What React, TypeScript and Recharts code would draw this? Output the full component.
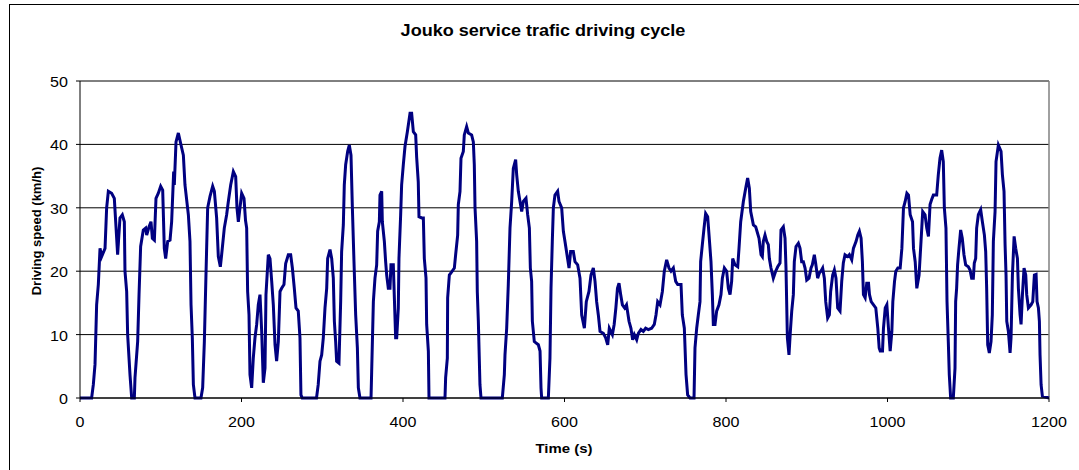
import { LineChart, Line, XAxis, YAxis, CartesianGrid, ReferenceLine } from 'recharts'

document.body.style.margin = '0'

const chartTitle = 'Jouko service trafic driving cycle'
const xTitle = 'Time (s)'
const yTitle = 'Driving speed (km/h)'

const xTicks = [0, 200, 400, 600, 800, 1000, 1200]
const yTicks = [0, 10, 20, 30, 40, 50]

// time (s)
const timeSec = [
  0, 14.4, 16.5, 18.6, 20.6, 22.7, 24.8, 26.8, 31, 33, 35.1, 39.2, 42.5, 44.2, 46.6, 49.5, 52.4, 54.9, 55.7, 57.8,
  59, 61.9, 64, 67.3, 68.1, 71.4, 73.1, 75.1, 78.4, 81.3, 82.6, 85.5, 87.9, 89.6, 92.1, 94.1, 97, 99.9, 102.4, 104.4,
  106.1, 108.6, 111.5, 113.5, 116, 116.8, 118.9, 121.8, 125.1, 128, 130, 134.2, 136.2, 137.5, 139.1, 140.4, 142.4, 149.8, 151.9, 154,
  156, 158.1, 161, 164.3, 166.4, 169.2, 171.3, 173.8, 175.4, 178.7, 181.6, 183.7, 186.6, 189.9, 192.8, 194.4, 196.1, 198.1, 200.2, 203.1,
  205, 206.4, 207.6, 209.3, 210.5, 212.6, 214.6, 216.7, 218.8, 220.8, 222.9, 225, 227, 229.1, 230.3, 233.2, 235.3, 237.4, 239.4, 241.5,
  243.5, 245.6, 247.7, 249.7, 252.6, 254.7, 258, 260.9, 263, 265.4, 267.5, 270.3, 272.4, 273.6, 275.2, 292.9, 295, 297.2, 299.3, 301.3,
  303.4, 305.5, 306.7, 309.6, 311.7, 313.7, 315, 316.6, 317.8, 320.7, 322.8, 324, 326.1, 327.3, 329, 331.5, 333.5, 335.6, 337.3, 339.3,
  341.4, 343.5, 344.7, 346.7, 360.4, 361.2, 363.3, 365.3, 367.4, 368.6, 370.7, 371.5, 373.6, 374.4, 376.9, 378.5, 379.8, 381.8, 383.9, 385.1,
  388, 389.3, 390.9, 392.2, 394.2, 395, 397.1, 398.3, 400.4, 402.5, 405.4, 408.7, 410.7, 412.8, 415.7, 416.9, 418.9, 419.8, 423.1, 425.2,
  426.4, 428.5, 429.3, 431.4, 432.2, 452, 452.8, 454.9, 455.3, 457.4, 460.3, 463.6, 465.2, 467.7, 468.5, 470.6, 471.8, 474.7, 475.9, 478.8,
  480.9, 485, 487.1, 488.3, 489.2, 491.2, 492, 493.3, 495.3, 496.6, 523, 525.5, 526.3, 528.4, 530.4, 532.5, 534.6, 536.6, 539.5, 540.8,
  542.8, 544.9, 547, 549, 552.3, 554.4, 556.5, 557.7, 559.3, 560.2, 562.6, 567.6, 569.7, 570.9, 571.7, 580, 582, 583.3, 584.9, 586.2,
  588.2, 591.5, 593.2, 596.5, 598.6, 600.6, 603.1, 605.6, 607.6, 610.9, 613, 616.3, 619.2, 621.3, 624.6, 627, 630.3, 632.8, 635.7, 637.8,
  639.8, 641.9, 644, 648.1, 651, 653.5, 655.5, 659.3, 661.5, 663.6, 665.6, 667.5, 669.6, 671.7, 674.5, 676.8, 679.9, 682.3, 684.4, 686.5,
  689.4, 691.4, 694.7, 697.6, 700.5, 703.8, 707.9, 711.2, 713.3, 715.4, 718.3, 721.2, 723.6, 726.5, 729.4, 731.9, 734.8, 737.7, 740.2, 744.3,
  745.9, 748.4, 750.5, 752.5, 755.4, 760.4, 761.6, 763.7, 765.7, 767.8, 768.6, 770.7, 772.8, 774.8, 777.3, 779, 781.4, 783.1, 784.3, 786.4,
  788.4, 791.3, 793.8, 795.5, 798, 800.8, 802.9, 805, 807, 808.3, 811.1, 814.5, 816.1, 818.2, 821.5, 824.4, 826.8, 828.9, 830.6, 833.9,
  836.8, 840.9, 843.4, 845, 846.2, 848.3, 850.4, 852.4, 853.7, 855.7, 858.6, 861.5, 864, 866.9, 868.1, 871, 873.1, 874.3, 876, 878,
  879.7, 881.4, 883.4, 884.6, 886.7, 889.6, 891.7, 893.7, 895.8, 897.9, 900, 902.8, 905.3, 906.9, 909.4, 911, 913.5, 915.6, 917.6, 919.7,
  921.8, 923.5, 925.9, 928, 929.6, 932.1, 934.2, 936.2, 938.3, 941.2, 943.3, 945.3, 947.4, 950.7, 952.8, 955.7, 957.8, 961.1, 963.2, 965.2,
  967.3, 968.9, 970.2, 972.3, 974.3, 976.5, 977.7, 979.8, 982.7, 985.5, 988, 989.7, 991, 993.8, 995, 997.2, 999.2, 1001.2, 1003.3, 1005.4,
  1006.6, 1008.7, 1010.3, 1012.8, 1015.7, 1017.8, 1019.8, 1021.9, 1024, 1026, 1028.1, 1031, 1032.2, 1034.3, 1036.3, 1039.1, 1041.5, 1043.6, 1046.5, 1048.6,
  1050.7, 1052.7, 1054.7, 1056.8, 1060.9, 1062.9, 1065, 1067.1, 1069.1, 1070.4, 1072.4, 1073.7, 1075.3, 1076.5, 1078.2, 1081.5, 1083.6, 1084.4, 1085.6, 1086.8,
  1088.5, 1090.6, 1092.6, 1094.7, 1096.8, 1100.1, 1102.2, 1104.2, 1106.3, 1107.5, 1109.2, 1110.4, 1112.5, 1115.4, 1117.5, 1120, 1121.6, 1122.8, 1124.1, 1126.1,
  1128.2, 1129.8, 1131.1, 1133.2, 1134.4, 1137.3, 1140.6, 1142.3, 1144.3, 1145.6, 1146.8, 1147.7, 1149.7, 1151.8, 1153, 1154.7, 1156.8, 1158.8, 1160.9, 1162.1,
  1164.2, 1165.4, 1167.1, 1169.1, 1171.2, 1172.4, 1174.5, 1177.8, 1179.9, 1181.9, 1184, 1185.2, 1186.9, 1188.1, 1188.9, 1190.2, 1191.8, 1200,
]

// speed (km/h) at those times
const speedKmh = [
  0, 0, 2.1, 5.3, 14.7, 17.9, 23.6, 22.3, 23.6, 30, 32.6, 32.3, 31.5, 27.8, 22.6, 28.4, 28.9, 27.8, 20, 16.8,
  10, 3.7, 0, 0, 3.2, 8.9, 16.3, 23.9, 26.5, 26.8, 25.7, 27, 27.8, 25.2, 24.9, 31.5, 32.3, 33.4, 32.8, 23.6,
  22, 24.7, 24.9, 27.8, 35.7, 33.6, 40.4, 41.8, 39.9, 38.3, 33.6, 28.9, 24.7, 14.7, 9.5, 2.1, 0, 0, 1.6, 8.9,
  19.4, 30, 31.8, 33.4, 32.6, 28.4, 22.3, 20.7, 22.6, 26.8, 28.9, 31, 33.6, 35.7, 34.9, 30, 27.8, 30, 32.3, 31.5,
  28, 26.8, 16.8, 13.1, 3.7, 1.6, 6.3, 9.5, 11.6, 14.7, 16.3, 10.5, 2.4, 4.7, 16.3, 22.6, 22, 18.4, 14.7, 8.4,
  5.8, 8.9, 16.8, 17.3, 17.9, 21.2, 22.6, 22.6, 20.5, 17.3, 14.2, 13.7, 9.5, 0.5, 0, 0, 2.1, 5.8, 6.8, 9.5,
  14.2, 17.3, 22, 23.4, 22, 18.9, 12.1, 8.9, 5.8, 5.5, 15.2, 23.1, 27.3, 33.6, 36.8, 38.9, 39.9, 38.3, 30, 21.5,
  13.1, 7.9, 1.6, 0, 0, 4.2, 15.2, 18.9, 21, 26.3, 27.8, 32, 32.6, 27.8, 24.7, 21.5, 19.4, 17.3, 17.3, 21,
  21, 15.8, 9.5, 9.5, 14.2, 22, 28.9, 33.6, 36.8, 39.7, 42, 44.9, 44.9, 42, 41.5, 38, 34.1, 28.6, 28.4, 28.4,
  22, 18.9, 11.6, 7.4, 0, 0, 3.2, 6.3, 15.8, 19.4, 19.9, 20.5, 22.6, 25.7, 30.5, 32.6, 37.8, 38.9, 41.5, 42.8,
  41.8, 41.5, 40.4, 36.8, 30, 24.7, 16.8, 12.1, 2.1, 0, 0, 3.7, 6.8, 11, 17.9, 26.8, 31, 36.2, 37.6, 35.2,
  32.6, 31, 29.4, 31, 31.5, 28.9, 26.8, 20.5, 18.4, 12.1, 8.9, 8.4, 7.4, 1.6, 0, 0, 6.3, 17.3, 24.7, 30,
  32, 32.6, 31, 30, 26.3, 24.7, 22.6, 20.5, 23.1, 23.1, 21.5, 21, 18.9, 13.1, 11, 15.2, 16.8, 19.4, 20.5, 18.4,
  15.2, 13.1, 10.5, 10.2, 9.5, 8.4, 11, 10, 11.6, 14.2, 17.3, 18.1, 16.3, 14.7, 14.2, 14.7, 12.1, 11, 9.2, 10,
  9.2, 10.2, 10.8, 10.5, 11, 10.8, 11, 11.6, 13.1, 15.2, 14.7, 16.8, 20, 21.8, 20.5, 20, 20.5, 18.4, 17.9, 17.9,
  13.1, 11, 3.7, 0.5, 0, 0, 7.9, 11, 13.1, 15.2, 21.5, 24.2, 26.8, 29.1, 28.6, 25.7, 21.5, 16.3, 11.6, 11.6,
  13.7, 14.7, 16.3, 18.9, 20.5, 20, 17.3, 16.3, 18.4, 22, 21, 20.7, 23.6, 27.8, 31, 33.1, 34.7, 33.1, 29.4, 27.3,
  27, 25.2, 22.6, 22.3, 24.7, 25.7, 24.7, 24.2, 22, 20.5, 18.9, 20, 20.7, 21.3, 26.5, 27, 25.2, 20.5, 9.5, 6.8,
  10.5, 13.7, 16.3, 21.5, 23.9, 24.4, 23.6, 21.5, 21.5, 20.5, 18.6, 18.9, 20.5, 21, 22.6, 21.3, 18.9, 19.7, 20, 20.5,
  18.9, 15.2, 12.6, 13.1, 16.8, 19.4, 20.2, 18.9, 14.2, 13.7, 18.4, 21.3, 22.6, 22.3, 22.6, 21.8, 23.6, 24.7, 25.7, 26.3,
  25.2, 21.5, 16.3, 15.8, 18.1, 18.1, 16.3, 15.2, 14.7, 14.2, 11, 7.9, 7.4, 7.4, 11, 14.2, 14.7, 11, 7.4, 10.5,
  15.2, 18.4, 20, 20.5, 20.5, 23.6, 30, 31, 32.3, 32, 28.9, 27.8, 23.6, 21.5, 17.3, 19.4, 24.7, 29.4, 28.9, 26.8,
  25.5, 30.5, 31.3, 32, 32, 35.2, 37.8, 39.1, 37.3, 30, 26.8, 15.2, 8.9, 3.7, 0, 0, 4.7, 15.2, 17.3, 21,
  23.6, 26.5, 25.2, 22.6, 21, 20.7, 20.2, 18.9, 18.9, 21.3, 22, 26.8, 28.9, 29.7, 27.8, 25.7, 23.1, 17.3, 8.4, 7.1,
  8.9, 13.1, 24.7, 29.4, 37.3, 39.9, 38.9, 35.2, 32.6, 24.2, 19.4, 12.1, 10.5, 7.1, 9.5, 19.4, 25.5, 23.6, 22, 17.3,
  13.1, 11.6, 16.3, 20.5, 19.4, 16.3, 14.2, 14.7, 15.2, 19.4, 19.5, 15.2, 14.2, 12.1, 6.8, 2.1, 0.3, 0,
]

const rows = timeSec.map((t, i) => ({ time: t, speed: speedKmh[i] }))

const labelFont = 'Arial, "Liberation Sans", Helvetica, sans-serif'

function XTick(props: any) {
  const { x, y, payload } = props
  return (
    <text
      transform={`translate(${x},${y + 10}) scale(1.15,1)`}
      textAnchor="middle"
      fontSize={14}
      fontFamily={labelFont}
      fill="#000"
    >
      {payload.value}
    </text>
  )
}

function YTick(props: any) {
  const { x, y, payload } = props
  return (
    <text
      transform={`translate(${x},${y + 6}) scale(1.15,1)`}
      textAnchor="end"
      fontSize={14}
      fontFamily={labelFont}
      fill="#000"
    >
      {payload.value}
    </text>
  )
}

export default function App() {
  return (
    <div style={{ position: 'relative', width: 1079, height: 470, overflow: 'hidden', background: '#fff' }}>
      <div
        style={{
          position: 'absolute',
          left: 9,
          top: 4,
          width: 1200,
          height: 600,
          borderLeft: '1px solid #000',
          borderTop: '1px solid #000',
        }}
      />
      <div style={{ position: 'absolute', left: 0, top: 0 }}>
        <LineChart width={1079} height={470} data={rows} margin={{ top: 81, right: 30, bottom: 42, left: 0 }}>
          <CartesianGrid horizontal vertical={false} stroke="#000" strokeWidth={1} />
          <XAxis
            dataKey="time"
            type="number"
            domain={[0, 1200]}
            ticks={xTicks}
            height={30}
            tickSize={4}
            tickMargin={15}
            tick={<XTick />}
            axisLine={{ stroke: '#000' }}
            tickLine={{ stroke: '#000' }}
          />
          <YAxis
            type="number"
            domain={[0, 50]}
            ticks={yTicks}
            width={80}
            tickSize={4}
            tickMargin={8}
            tick={<YTick />}
            axisLine={{ stroke: '#000' }}
            tickLine={{ stroke: '#000' }}
          />
          <ReferenceLine x={1200} stroke="#808080" strokeWidth={1.5} />
          <Line
            dataKey="speed"
            type="linear"
            stroke="#000080"
            strokeWidth={3}
            dot={false}
            isAnimationActive={false}
          />
        </LineChart>
      </div>
      <svg
        width={1079}
        height={470}
        style={{ position: 'absolute', left: 0, top: 0, pointerEvents: 'none' }}
      >
        <text
          transform="translate(543,36) scale(1.15,1)"
          textAnchor="middle"
          fontSize={15.7}
          fontWeight="bold"
          fontFamily={labelFont}
          fill="#000"
        >
          {chartTitle}
        </text>
        <text
          transform="translate(40.5,231) rotate(-90)"
          textAnchor="middle"
          fontSize={13}
          fontWeight="bold"
          fontFamily={labelFont}
          fill="#000"
        >
          {yTitle}
        </text>
        <text
          transform="translate(564,453) scale(1.15,1)"
          textAnchor="middle"
          fontSize={13}
          fontWeight="bold"
          fontFamily={labelFont}
          fill="#000"
        >
          {xTitle}
        </text>
      </svg>
    </div>
  )
}
